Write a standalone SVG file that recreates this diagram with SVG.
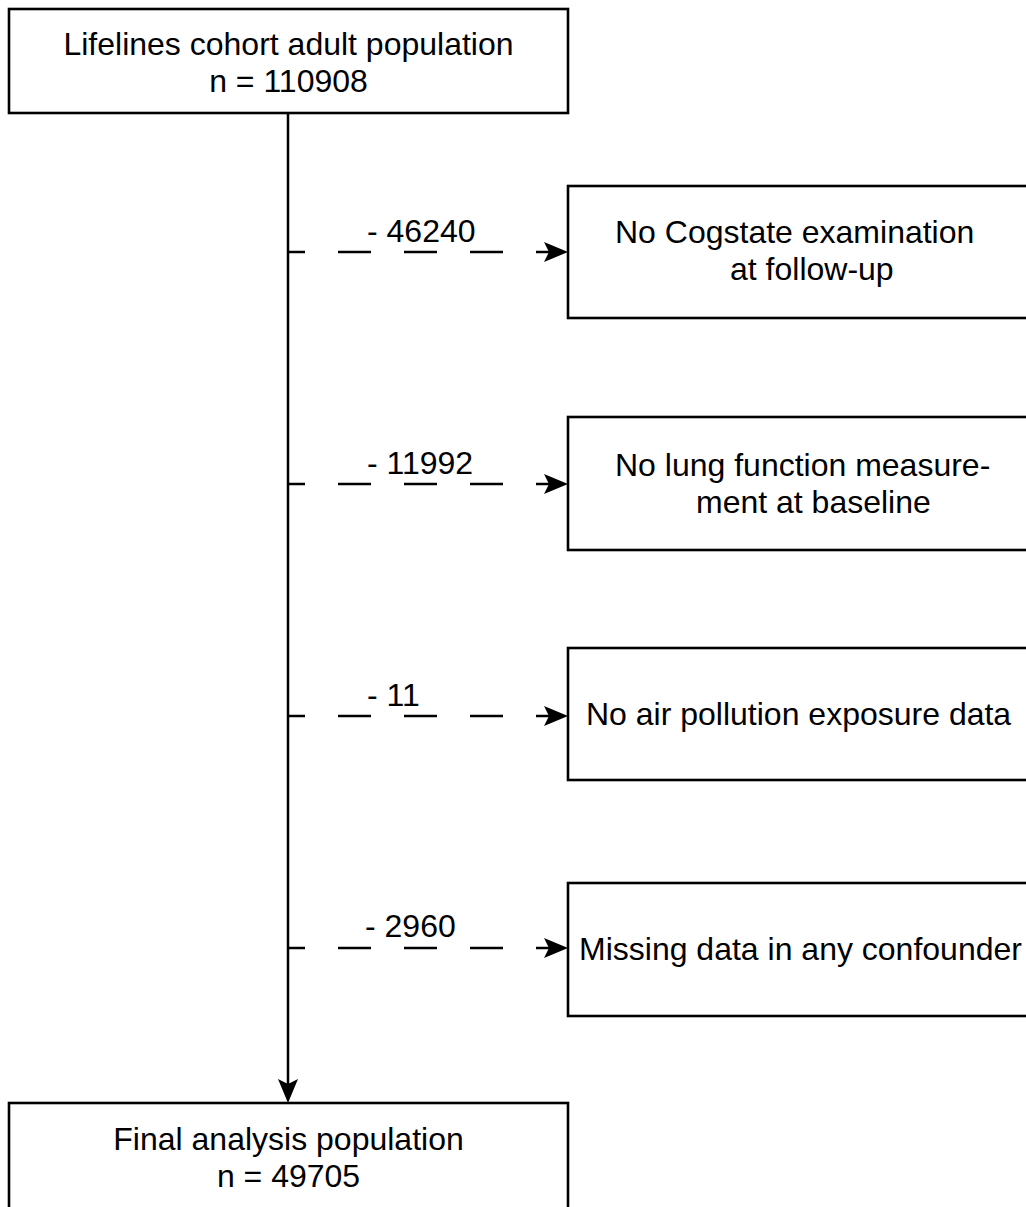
<svg xmlns="http://www.w3.org/2000/svg" width="1026" height="1207" viewBox="0 0 1026 1207">
  <style>
    .box { fill: #ffffff; stroke: #000000; stroke-width: 2.6; }
    .t { font-family: "Liberation Sans", Arial, sans-serif; font-size: 32px; fill: #000000; }
    .c { text-anchor: middle; }
    .line { fill: none; stroke: #000000; stroke-width: 2.5; }
    .dash { stroke-dasharray: 33 33; stroke-dashoffset: 15; }
    .head { fill: #000000; stroke: none; }
  </style>
  <rect width="1026" height="1207" fill="#ffffff"/>

  <g id="connectors">
    <line class="line" x1="288" y1="113" x2="288" y2="1086"/>
    <path class="head" d="M288,1103 L278,1079 L288,1084 L298,1079 Z"/>

    <line class="line dash" x1="287" y1="252" x2="550" y2="252"/>
    <path class="head" d="M568,252 L544,242 L549,252 L544,262 Z"/>
    <text class="t" x="367" y="242">- 46240</text>

    <line class="line dash" x1="287" y1="484" x2="550" y2="484"/>
    <path class="head" d="M568,484 L544,474 L549,484 L544,494 Z"/>
    <text class="t" x="367" y="474">- 11992</text>

    <line class="line dash" x1="287" y1="716" x2="550" y2="716"/>
    <path class="head" d="M568,716 L544,706 L549,716 L544,726 Z"/>
    <text class="t" x="367" y="706">- 11</text>

    <line class="line dash" x1="287" y1="948" x2="550" y2="948"/>
    <path class="head" d="M568,948 L544,938 L549,948 L544,958 Z"/>
    <text class="t" x="365" y="937">- 2960</text>
  </g>

  <g id="node-start">
    <rect class="box" x="9" y="9" width="559" height="104"/>
    <text class="t c" x="288.5" y="55">Lifelines cohort adult population</text>
    <text class="t c" x="288.5" y="92">n = 110908</text>
  </g>

  <g id="node-excl1">
    <rect class="box" x="568" y="186" width="480" height="132"/>
    <text class="t" x="615" y="243">No Cogstate examination</text>
    <text class="t" x="730" y="280">at follow-up</text>
  </g>

  <g id="node-excl2">
    <rect class="box" x="568" y="417" width="480" height="133"/>
    <text class="t" x="615" y="476">No lung function measure-</text>
    <text class="t" x="696" y="513">ment at baseline</text>
  </g>

  <g id="node-excl3">
    <rect class="box" x="568" y="648" width="480" height="132"/>
    <text class="t" x="586" y="725">No air pollution exposure data</text>
  </g>

  <g id="node-excl4">
    <rect class="box" x="568" y="883" width="480" height="133"/>
    <text class="t" x="579" y="960">Missing data in any confounder</text>
  </g>

  <g id="node-final">
    <rect class="box" x="9" y="1103" width="559" height="130"/>
    <text class="t c" x="288.5" y="1150">Final analysis population</text>
    <text class="t c" x="288.5" y="1187">n = 49705</text>
  </g>
</svg>
